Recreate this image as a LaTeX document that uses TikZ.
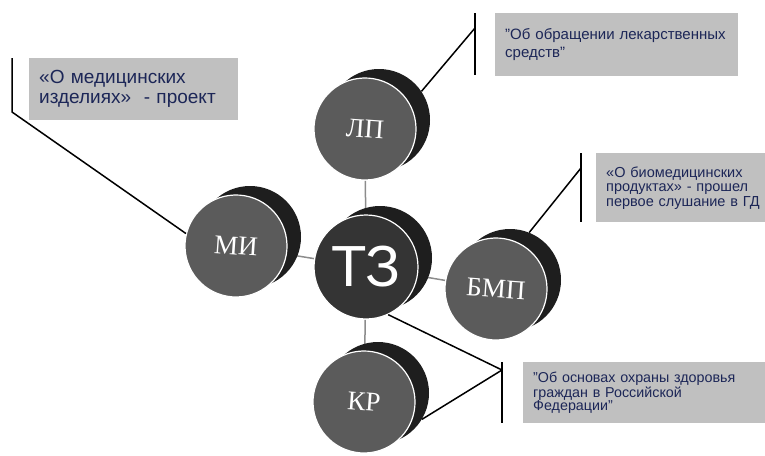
\documentclass[tikz,border=0pt]{standalone}
\usepackage{fontspec}
\setmainfont{Liberation Serif}
\setsansfont{Liberation Sans}
\usetikzlibrary{backgrounds, calc}
\definecolor{disk}{HTML}{5B5B5B}
\definecolor{diskcentr}{HTML}{343434}
\definecolor{ten}{HTML}{1E1E1E}
\definecolor{plashka}{HTML}{C0C0C0}
\definecolor{chernila}{HTML}{1C2657}
\definecolor{nitka}{HTML}{8C8C8C}
\tikzset{
  lico/.style={circle, fill=disk, draw=white, line width=1.2pt, minimum size=102pt, inner sep=0pt,
              text=white, rotate=-4, font=\rmfamily\fontsize{27}{27}\selectfont},
  tylo/.style={circle, fill=ten, minimum size=102pt, inner sep=0pt},
  zametka/.style={fill=plashka, text=chernila, align=left, anchor=north west,
              inner xsep=10pt, inner ysep=0pt},
  vynoska/.style={draw=black, line width=1.5pt},
  svyaz/.style={draw=nitka, line width=1.5pt},
}

\begin{document}
\begin{tikzpicture}[x=1pt, y=-1pt]
  \useasboundingbox (0,0) rectangle (765,455);
  % obratnye storony diskov
  \node[tylo] (lp-z) at (379,120) {};
  \node[tylo] (mi-z) at (250,237) {};
  \node[tylo, minimum size=104pt] (tz-z) at (380,258) {};
  \node[tylo] (bmp-z) at (510,280) {};
  \node[tylo] (kr-z) at (378,393) {};
  % licevye storony
  \node[lico] (lp) at (365,129) {ЛП};
  \node[lico] (mi) at (236,246) {МИ};
  \node[lico, fill=diskcentr, minimum size=104pt, rotate=4, font=\sffamily\fontsize{58}{58}\selectfont] (tz) at (366,267) {ТЗ};
  \node[lico] (bmp) at (496,289) {БМП};
  \node[lico] (kr) at (364,402) {КР};
  \begin{scope}[on background layer]
    \draw[svyaz] (lp) -- (tz);
    \draw[svyaz] (mi) -- (tz);
    \draw[svyaz] (bmp) -- (tz);
    \draw[svyaz] (kr) -- (tz);
  \end{scope}
  % vynoski
  \coordinate (mi-v1) at (12,58);
  \coordinate (mi-v2) at (12,112);
  \coordinate (lp-v1) at (475,13);
  \coordinate (lp-v2) at (475,75);
  \coordinate (lp-k) at (475,28);
  \coordinate (bmp-v1) at (581,153);
  \coordinate (bmp-v2) at (581,222);
  \coordinate (bmp-k) at (581,168);
  \coordinate (oz-v1) at (502,362);
  \coordinate (oz-v2) at (502,423);
  \coordinate (oz-k) at (502,370);
  \draw[vynoska] (mi-v1) -- (mi-v2) -- (mi.170);
  \draw[vynoska] (lp-v1) -- (lp-v2);
  \draw[vynoska] (lp-z.34) -- (lp-k);
  \draw[vynoska] (bmp-v1) -- (bmp-v2);
  \draw[vynoska] (bmp-z.68) -- (bmp-k);
  \draw[vynoska] (oz-v1) -- (oz-v2);
  \draw[vynoska] (tz.-65) -- (oz-k);
  \draw[vynoska] (kr-z.-31) -- (oz-k);
  % plashki s tekstom
  \node[zametka, text width=189pt, minimum height=62pt, font=\sffamily\fontsize{19}{20}\selectfont] (t-mi) at (29,58)
    {«О медицинских\\изделиях»~~- проект};
  \node[zametka, text width=223pt, minimum height=63pt, font=\sffamily\fontsize{15}{18}\selectfont] (t-lp) at (495,13)
    {"Об обращении лекарственных\\средств"};
  \node[zametka, text width=162pt, minimum height=69pt, font=\sffamily\fontsize{14.5}{14.5}\selectfont] (t-bmp) at (596,153)
    {«О биомедицинских\\продуктах» - прошел\\первое слушание в ГД};
  \node[zametka, text width=224pt, minimum height=61pt, font=\sffamily\fontsize{14.3}{13.5}\selectfont] (t-oz) at (523,362)
    {"Об основах охраны здоровья\\граждан в Российской\\Федерации"};
\end{tikzpicture}
\end{document}
